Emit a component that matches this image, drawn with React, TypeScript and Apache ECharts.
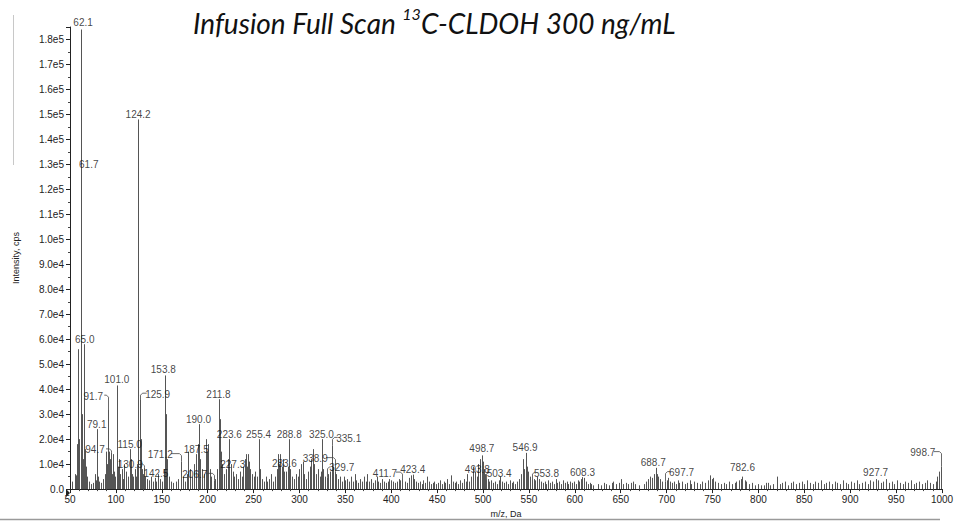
import React, { useEffect, useRef } from "react";
import * as echarts from "echarts";

// ---- Data (m/z, intensity in cps) ----
const peaksLow: [number, number][] = [
  [52, 3000], [55, 6000], [57, 5500], [58, 18000], [59.1, 56000], [60.0, 20000],
  [61.7, 132000], [62.1, 184000], [63.0, 30000], [64.0, 12000], [65.0, 58000],
  [66.0, 16000], [67, 9000], [68, 5000], [69, 4000], [71, 3000], [73, 2000],
  [75, 2500], [77, 6000], [78, 3500], [79.1, 24000], [80, 5000], [82, 3000],
  [84, 2500], [86, 4000], [88, 6000], [89, 15000], [90, 10000], [91.7, 32000],
  [92.5, 15000], [93.3, 12000], [94.7, 14500], [96, 6000], [97, 14000], [98, 7000],
  [99, 5000], [101.0, 41500], [102, 9000], [103, 12000], [104, 6000], [105, 5000],
  [107, 8000], [108, 4000], [109, 10000], [111, 7000], [113, 5000], [115.0, 16000],
  [116, 9000], [117, 12000], [118, 6000], [119, 5000], [121, 8000], [122, 5000],
  [123, 10000], [124.2, 148000], [125.9, 36000], [127, 20000], [128, 8000],
  [129, 6000], [130.9, 8500], [132, 5000], [134, 4000], [136, 3500], [138, 5000],
  [140, 3000], [142.5, 4500], [144, 3000], [146, 6000], [148, 4000], [150, 3000],
  [152, 8000], [153.8, 45500], [155, 30000], [156, 12000], [158, 5000], [160, 3000],
  [162, 2500], [165, 3000], [168, 4000], [171.2, 11000], [173, 5000], [175, 3000],
  [177, 6000], [179, 15000], [181, 8000], [183, 5000], [185, 10000], [187.5, 14000],
  [189, 18000], [190.0, 26000], [192, 12000], [194, 8000], [196, 6000], [198, 20000],
  [199, 15000], [200.5, 18000], [202, 8000], [204, 5000], [206.7, 3500], [208, 4000],
  [210, 8000], [211.8, 36000], [213, 28000], [214, 15000], [216, 10000], [218, 6000],
  [220, 8000], [222, 12000], [223.6, 20000], [225, 10000], [227.3, 7000], [229, 5000],
  [231, 6000], [233, 4000], [235, 7000], [237, 5000], [239, 9000], [241, 12000],
  [242, 14000], [243, 9000], [244, 14000], [245, 11000], [246, 8000], [248, 6000],
];
const peaksMid: [number, number][] = [
  [250, 5000], [252, 7000], [254, 5000], [255.4, 20000], [257, 8000], [259, 4000],
  [261, 3000], [263, 5000], [265, 3000], [267, 4000], [269, 6000], [271, 3000],
  [273, 5000], [275, 8000], [277, 14000], [278, 10000], [279, 14000], [281, 9000],
  [282, 12000], [283.6, 7000], [285, 7000], [287, 9000], [288.8, 20000], [290, 8000],
  [292, 5000], [294, 4000], [296, 6000], [298, 5000], [300, 8000], [302, 10000],
  [303.5, 11000], [305, 6000], [307, 4000], [309, 7000], [311, 9000], [313, 12000],
  [314.5, 16000], [316, 10000], [318, 6000], [320, 8000], [322, 5000], [323, 7000],
  [325.0, 20000], [326, 8000], [328, 5000], [329.7, 4500], [331, 6000], [333, 7000],
  [335.1, 17500], [336, 9000], [338.9, 7000], [340, 6000], [342, 4000], [344, 5000],
  [346, 3000], [348, 5000], [350, 3500], [352, 4000], [354, 3000], [356, 5000],
  [358, 3000], [360, 6000], [362, 3500], [364, 2500], [366, 4000], [368, 3000],
  [370, 5000], [372, 3000], [374, 6000], [376, 3000], [378, 4000], [380, 2500],
  [382, 3500], [384, 5000], [386, 3000], [388, 2500], [390, 4000], [392, 3000],
  [394, 2500], [396, 3000], [398, 4000], [400, 3500], [402, 3000], [404, 2500],
  [406, 3000], [408, 4000], [410, 3500], [411.7, 4000], [415, 3000], [417, 2500],
  [419, 4500], [421, 5500], [423.4, 5800], [425, 4000], [427, 3000], [429, 2500],
  [431, 3000], [433, 2000], [435, 3500], [437, 2500], [439, 5000], [441, 3000],
  [443, 2000], [445, 2500], [447, 3000], [449, 2000], [451, 2500], [453, 3500],
  [455, 2000], [457, 3000], [459, 2500], [461, 4000], [463, 2000], [465, 5500],
  [467, 3000], [469, 2500], [471, 3000], [473, 2000], [475, 3500], [477, 2500],
  [479, 4000], [481, 3000], [483, 6000], [485, 3000], [487, 5000], [489, 9000],
  [491, 7000], [493.8, 5000], [495, 10000], [497, 12000], [498.7, 13500], [500, 11000],
  [501, 8000], [502, 6000], [503.4, 4000], [505, 4000], [507, 3000], [509, 3500],
  [511, 2500], [513, 3000], [515, 2000], [517, 3500], [519, 5000], [521, 3000],
  [523, 2500], [525, 3000], [527, 2000], [529, 3500], [531, 2500], [533, 3000],
  [535, 2000], [537, 3000], [539, 4000], [541, 6000], [543, 12000], [544, 10000],
  [545, 8000], [546.9, 14500], [548, 9000], [549, 7000], [551, 5000], [553.8, 4000],
  [555, 4000], [557, 3500], [559, 5000], [561, 4000], [563, 3000], [565, 2500],
  [567, 3000], [569, 2000], [571, 3500], [573, 2500], [575, 3000], [577, 2000],
  [579, 4000], [581, 2500], [583, 3000], [585, 2000], [587, 3500], [589, 2500],
  [591, 3000], [593, 2000], [595, 3000], [597, 2500], [599, 3000], [601, 2000],
  [603, 3500], [605, 3000], [607, 4000], [608.3, 4800], [610, 4500], [612, 3000],
  [614, 2000], [616, 2500], [618, 2000],
];
const peaksHigh: [number, number][] = [
  [620, 1500], [625, 2000], [628, 1500], [632, 2500], [634, 2000], [637, 1500],
  [640, 2500], [642, 3000], [645, 2000], [648, 2500], [650, 4000], [653, 2000],
  [656, 2500], [658, 2000], [661, 2500], [663, 3000], [666, 2000], [670, 1500],
  [675, 2000], [678, 3000], [680, 4000], [682, 5000], [684, 4500], [686, 6000],
  [688.7, 8500], [689.5, 6000], [691, 5000], [693, 4000], [695, 3000], [697.7, 3000],
  [700, 3500], [702, 4500], [704, 3000], [706, 2500], [708, 3000], [710, 2000],
  [712, 3500], [714, 2500], [717, 3000], [720, 2000], [722, 2500], [725, 3500],
  [727, 2000], [730, 3000], [733, 2500], [736, 2000], [739, 3000], [742, 2500],
  [745, 3500], [747, 5500], [749, 4000], [751, 4500], [753, 3000], [756, 2500],
  [759, 2000], [762, 2500], [765, 2000], [768, 3000], [771, 2000], [774, 2500],
  [776, 3000], [779, 3500], [781, 4000], [782.6, 5000], [785, 3500], [787, 3000],
  [790, 2000], [793, 2500], [796, 1500], [800, 2000], [803, 1500], [806, 1500],
  [808, 2500], [810, 2500], [813, 1500], [816, 2000], [820, 5000], [823, 2000],
  [826, 2500], [829, 3000], [832, 1500], [835, 2500], [838, 3000], [841, 2000],
  [844, 2500], [847, 3000], [850, 2000], [853, 3500], [856, 2500], [859, 2000],
  [862, 3000], [865, 2500], [868, 3500], [871, 2000], [874, 2500], [877, 3000],
  [880, 2000], [883, 3000], [886, 2500], [889, 2000], [892, 3500], [895, 2500],
  [898, 2000], [901, 3000], [904, 2500], [907, 3500], [910, 2000], [913, 2500],
  [916, 3000], [919, 2000], [922, 3500], [925, 3000], [927.7, 4000], [930, 3500],
  [933, 2500], [936, 3000], [939, 4000], [942, 2500], [945, 3000], [948, 2000],
  [951, 3500], [954, 2500], [957, 2000], [960, 3000], [963, 2500], [966, 3500],
  [969, 2000], [972, 2500], [975, 3000], [978, 2000], [981, 2500], [984, 3500],
  [987, 2500], [990, 2000], [993, 3000], [995, 5000], [997, 7000], [998.7, 9000],
  [999.5, 4000],
];

// labelled peaks (label text = m/z)
const labelledMz: number[] = [
  62.1, 61.7, 65.0, 79.1, 91.7, 94.7, 101.0, 115.0, 124.2, 125.9, 130.9, 142.5,
  153.8, 171.2, 187.5, 190.0, 206.7, 211.8, 223.6, 227.3, 255.4, 283.6, 288.8,
  325.0, 335.1, 338.9, 329.7, 411.7, 423.4, 493.8, 498.7, 503.4, 546.9, 553.8,
  608.3, 688.7, 697.7, 782.6, 927.7, 998.7,
];

const yMax = 185000;
const xMin = 50;
const xMax = 1000;

// label placement (style only): [dx, dy, leaderLine]
const labelShift: Record<string, [number, number, boolean]> = {
  "62.1": [2, 0, false],
  "61.7": [8, 12, false],
  "65.0": [1, 2, false],
  "79.1": [0, 2, false],
  "91.7": [-15, -6, true],
  "94.7": [-16, 4, true],
  "101.0": [0, 1, false],
  "115.0": [0, 2, false],
  "124.2": [0, 2, false],
  "125.9": [18, 2, true],
  "130.9": [-14, 4, true],
  "142.5": [1, 3, false],
  "153.8": [-2, 1, false],
  "171.2": [-21, 0, true],
  "187.5": [0, 2, false],
  "190.0": [0, 2, false],
  "206.7": [-19, 1, true],
  "211.8": [0, 2, false],
  "223.6": [0, 2, false],
  "227.3": [0, 0, false],
  "255.4": [0, 2, false],
  "283.6": [0, -1, false],
  "288.8": [0, 2, false],
  "325.0": [-1, 2, false],
  "335.1": [17, 0, true],
  "338.9": [-20, -6, true],
  "329.7": [15, -3, true],
  "411.7": [-17, 1, true],
  "423.4": [0, 2, false],
  "493.8": [0, 0, false],
  "498.7": [0, 0, false],
  "503.4": [13, 1, true],
  "546.9": [-1, 2, false],
  "553.8": [14, 1, true],
  "608.3": [0, 2, false],
  "688.7": [-3, 2, false],
  "697.7": [17, -2, true],
  "782.6": [0, -2, false],
  "927.7": [0, 0, false],
  "998.7": [-18, -7, true],
};

const allPeaks: [number, number][] = [...peaksLow, ...peaksMid, ...peaksHigh];

function fmtY(v: number): string {
  if (v === 0) return "0.0";
  return v.toExponential(1).replace("e+", "e");
}

function intensityOf(mz: number): number {
  const found = allPeaks.find((p) => p[0] === mz);
  return found ? found[1] : 0;
}

function shiftOf(mz: number): [number, number, boolean] {
  return labelShift[mz.toFixed(1)] || [0, 0, false];
}

export default function App() {
  const ref = useRef<HTMLDivElement>(null);
  useEffect(() => {
    if (!ref.current) return;
    const chart = echarts.init(ref.current, null, { renderer: "svg" });
    const labelData = labelledMz.map((mz) => ({
      value: [mz, intensityOf(mz)],
      name: mz.toFixed(1),
    }));
    const leaderMz = labelledMz.filter((mz) => shiftOf(mz)[2]);
    const leaderData = leaderMz.map((mz) => ({ value: [mz, intensityOf(mz)], name: mz.toFixed(1) }));

    const font = "'Liberation Sans', Arial, sans-serif";
    chart.setOption({
      animation: false,
      backgroundColor: "#ffffff",
      title: {
        text: "{a|Infusion Full Scan }{s|13}{a|C-CLDOH 300 ng/mL}",
        left: 188,
        top: 0,
        textStyle: {
          fontWeight: "normal",
          rich: {
            a: {
              fontFamily: "Lato",
              fontStyle: "italic",
              fontWeight: "normal",
              fontSize: 28,
              color: "#111",
              lineHeight: 36,
            },
            s: {
              fontFamily: "Lato",
              fontStyle: "italic",
              fontWeight: "normal",
              fontSize: 16,
              color: "#111",
              lineHeight: 22,
              verticalAlign: "top",
            },
          },
        },
      },
      grid: { left: 70, right: 18, top: 27, bottom: 26, containLabel: false },
      xAxis: {
        type: "value",
        min: xMin,
        max: xMax,
        interval: 50,
        name: "m/z, Da",
        nameLocation: "middle",
        nameGap: 14,
        nameTextStyle: { fontFamily: font, fontSize: 9, color: "#222" },
        axisLine: { lineStyle: { color: "#222", width: 1 } },
        axisTick: { show: true, length: 4, lineStyle: { color: "#222" } },
        minorTick: { show: true, splitNumber: 5, length: 2, lineStyle: { color: "#444" } },
        axisLabel: {
          fontFamily: font,
          fontSize: 10,
          color: "#222",
          margin: 5,
          formatter: (v: number) => String(v),
        },
        splitLine: { show: false },
      },
      yAxis: {
        type: "value",
        min: 0,
        max: yMax,
        interval: 10000,
        name: "Intensity, cps",
        nameLocation: "middle",
        nameGap: 50,
        nameTextStyle: { fontFamily: font, fontSize: 9, color: "#222" },
        axisLine: { show: true, lineStyle: { color: "#222", width: 1 } },
        axisTick: { show: true, length: 4, lineStyle: { color: "#222" } },
        minorTick: { show: true, splitNumber: 2, length: 2, lineStyle: { color: "#444" } },
        axisLabel: {
          fontFamily: font,
          fontSize: 10,
          color: "#222",
          margin: 6,
          showMaxLabel: false,
          formatter: (v: number) => fmtY(v),
        },
        splitLine: { show: false },
      },
      series: [
        {
          type: "custom",
          name: "spectrum",
          data: allPeaks,
          encode: { x: 0, y: 1 },
          clip: true,
          renderItem: (params: any, api: any) => {
            const x = api.value(0);
            const y = api.value(1);
            const p0 = api.coord([x, 0]);
            const p1 = api.coord([x, y]);
            const px = Math.round(p0[0]) + 0.5;
            return {
              type: "line",
              shape: { x1: px, y1: p0[1], x2: px, y2: p1[1] },
              style: { stroke: "#555555", lineWidth: 1 },
            };
          },
          z: 2,
        },
        {
          type: "scatter",
          name: "labels",
          data: labelData,
          symbol: "circle",
          symbolSize: 2,
          itemStyle: { color: "rgba(0,0,0,0)" },
          silent: true,
          labelLayout: (params: any) => {
            const sh = shiftOf(labelledMz[params.dataIndex]);
            return { dx: sh[0], dy: sh[1], hideOverlap: false };
          },
          label: {
            show: true,
            position: "top",
            distance: 1,
            formatter: "{b}",
            fontFamily: font,
            fontSize: 10,
            color: "#111",
          },
          z: 5,
        },
        {
          type: "custom",
          name: "leaders",
          data: leaderData,
          encode: { x: 0, y: 1 },
          renderItem: (params: any, api: any) => {
            const x = api.value(0);
            const y = api.value(1);
            const p = api.coord([x, y]);
            const sh = shiftOf(leaderMz[params.dataIndex]);
            const dx = sh[0];
            const dy = sh[1];
            const lx = p[0] + dx + (dx < 0 ? 11 : -11);
            const ly = p[1] - 8 + dy;
            const px = Math.round(p[0]) + 0.5;
            return {
              type: "polyline",
              shape: { points: [[lx, ly], [px - (dx < 0 ? 2 : -2), ly], [px, ly + 2], [px, p[1]]] },
              style: { stroke: "#444", lineWidth: 0.8, fill: "none" },
            };
          },
          z: 3,
        },
      ],
      graphic: [
        {
          type: "line",
          shape: { x1: 0, y1: 519.5, x2: 940, y2: 519.5 },
          style: { stroke: "#9a9a9a", lineWidth: 1.5 },
          silent: true,
        },
        {
          type: "line",
          shape: { x1: 13.5, y1: 15, x2: 13.5, y2: 165 },
          style: { stroke: "#c8c8c8", lineWidth: 1 },
          silent: true,
        },
        {
          type: "polygon",
          shape: { points: [[66, 489], [70, 493], [66, 497]] },
          style: { fill: "#222" },
          silent: true,
        },
      ],
    });
    return () => chart.dispose();
  }, []);
  return (
    <div
      ref={ref}
      style={{ position: "fixed", left: 0, top: 0, width: 960, height: 523, background: "#fff" }}
    />
  );
}
